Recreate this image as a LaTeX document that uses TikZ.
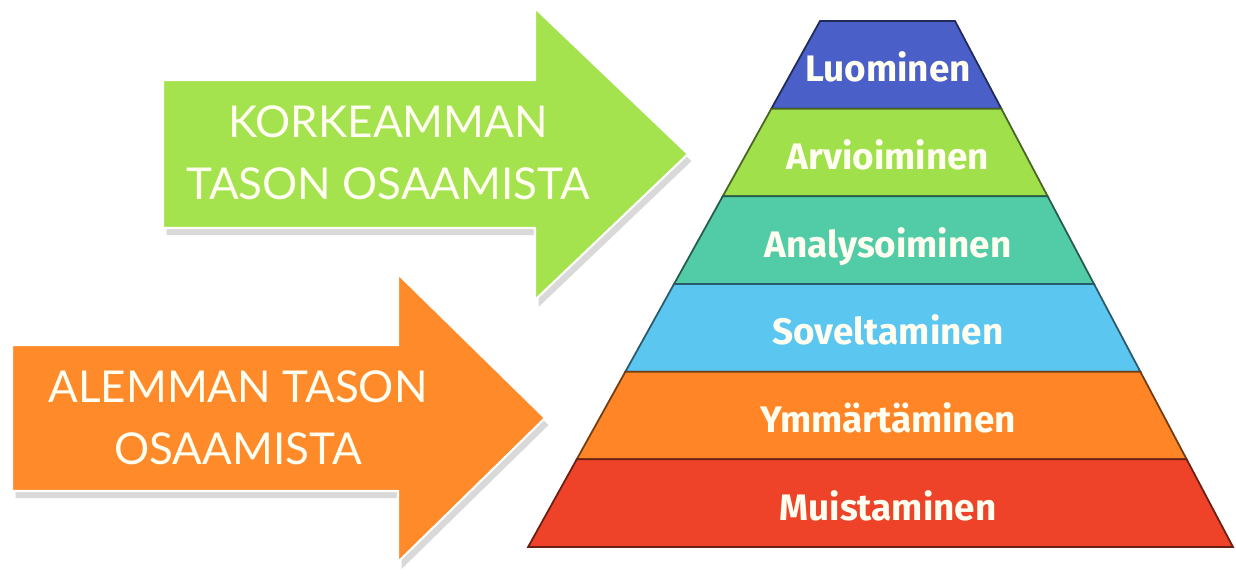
\documentclass[tikz,border=0pt]{standalone}
\usepackage{fontspec}
\setmainfont{Fira Sans}
\newfontfamily\arrowfont{Lato}
\usepackage{xcolor}
\usetikzlibrary{positioning,shadows}
\definecolor{topblue}{HTML}{4A5FC8}
\definecolor{limegreen}{HTML}{9FE04B}
\definecolor{tealgreen}{HTML}{52CCA6}
\definecolor{skyblue}{HTML}{5BC7F0}
\definecolor{brightorange}{HTML}{FF8526}
\definecolor{brickred}{HTML}{EE4328}
\definecolor{arrowgreen}{HTML}{A4E34E}
\definecolor{arroworange}{HTML}{FF8A2A}
\definecolor{cream}{HTML}{FFFEF0}

\begin{document}
\begin{tikzpicture}[x=0.02cm,y=-0.02cm,
  bigarrow/.style={draw=white,line width=1.2pt,
    drop shadow={shadow xshift=2pt,shadow yshift=-4pt,opacity=0.25,fill=black!60}},
  arrowtext/.style={font=\arrowfont\fontsize{25}{35}\selectfont,text=cream,align=center},
  layer/.style={line width=1pt},
  layertext/.style={font=\bfseries\fontsize{21}{24}\selectfont,text=cream,anchor=base}]
  \useasboundingbox (0,0) rectangle (1236,577);

  % arrows on the left
  \path[bigarrow,fill=arrowgreen] (163,80) -- (535,80) -- (535,8) -- (688,154)
    -- (535,300) -- (535,228) -- (163,228) -- cycle;
  \node[arrowtext] (high) at (388,153) {KORKEAMMAN\\TASON OSAAMISTA};
  \path[bigarrow,fill=arroworange] (12,345) -- (398,345) -- (398,274) -- (545,418)
    -- (398,562) -- (398,491) -- (12,491) -- cycle;
  \node[arrowtext] (low) at (238,418) {ALEMMAN TASON\\OSAAMISTA};

  % pyramid, top layer first
  \foreach \lname/\lcol/\ltext [count=\i from 0] in
    {create/topblue/Luominen, evaluate/limegreen/Arvioiminen,
     analyse/tealgreen/Analysoiminen, apply/skyblue/Soveltaminen,
     understand/brightorange/Ymm\"art\"aminen, remember/brickred/Muistaminen}{
    \pgfmathsetmacro{\ya}{21+87.67*\i}
    \pgfmathsetmacro{\yb}{21+87.67*(\i+1)}
    \pgfmathsetmacro{\xal}{820-0.555*(\ya-21)}
    \pgfmathsetmacro{\xar}{955+0.5285*(\ya-21)}
    \pgfmathsetmacro{\xbl}{820-0.555*(\yb-21)}
    \pgfmathsetmacro{\xbr}{955+0.5285*(\yb-21)}
    \filldraw[layer,fill=\lcol,draw=\lcol!45!black]
      (\xal,\ya) -- (\xar,\ya) -- (\xbr,\yb) -- (\xbl,\yb) -- cycle;
    \node[layertext] (\lname) at (888,{(\ya+\yb)/2+17}) {\ltext};
  }
\end{tikzpicture}
\end{document}
